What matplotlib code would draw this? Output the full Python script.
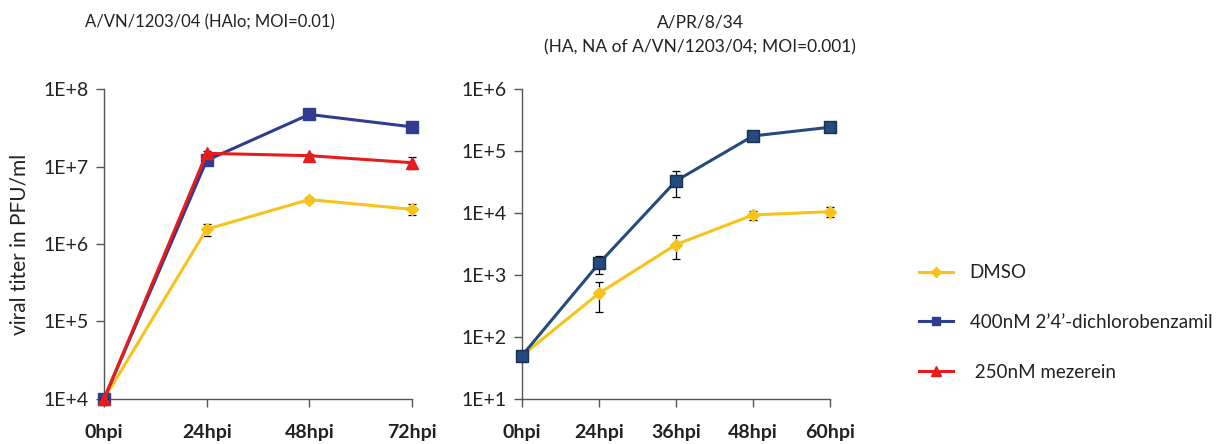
import numpy as np
import matplotlib.pyplot as plt
from matplotlib.ticker import FixedLocator, NullLocator
from matplotlib.lines import Line2D

plt.rcParams['font.family'] = ['Lato', 'DejaVu Sans']

# left panel: A/VN/1203/04
vn_labels = ["0hpi", "24hpi", "48hpi", "72hpi"]
vn_dmso = [1.0e4, 1.55e6, 3.75e6, 2.8e6]
vn_dmso_err = [0, 0.27e6, 0.3e6, 0.45e6]
vn_dcb = [1.0e4, 1.2e7, 4.7e7, 3.25e7]
vn_dcb_err = [0, 0, 0, 0]
vn_mez = [1.0e4, 1.48e7, 1.38e7, 1.12e7]
vn_mez_err = [0, 0.1e7, 0.08e7, 0.2e7]

# right panel: A/PR/8/34
pr_labels = ["0hpi", "24hpi", "36hpi", "48hpi", "60hpi"]
pr_dmso = [50, 507, 3.1e3, 9.3e3, 1.05e4]
pr_dmso_err = [0, 255, 1.3e3, 1.5e3, 1.9e3]
pr_dcb = [50, 1.54e3, 3.3e4, 1.75e5, 2.42e5]
pr_dcb_err = [0, 0.5e3, 1.5e4, 0.15e5, 0.2e5]

series_names = ["DMSO", "400nM 2\u20194\u2019-dichlorobenzamil", " 250nM mezerein"]

yellow = "#F7C31A"
blue_l = "#2F3C8F"
blue_r = "#254A7C"
red = "#E81C1C"
txt = "#222222"


def style_axes(ax, labels, ymin, ymax):
    ax.set_yscale("log")
    ax.set_ylim(ymin, ymax)
    ax.set_xlim(0, len(labels) - 1)
    ax.set_xticks(range(len(labels)))
    ax.set_xticklabels(labels, fontsize=14, fontweight="bold", color=txt)
    ticks = [10.0 ** k for k in range(int(np.log10(ymin)), int(np.log10(ymax)) + 1)]
    ax.yaxis.set_major_locator(FixedLocator(ticks))
    ax.yaxis.set_minor_locator(NullLocator())
    ax.set_yticklabels(["1E+%d" % int(round(np.log10(t))) for t in ticks],
                       fontsize=14, color=txt)
    for s in ["top", "right"]:
        ax.spines[s].set_visible(False)
    for s in ["left", "bottom"]:
        ax.spines[s].set_color("#555555")
        ax.spines[s].set_linewidth(1.0)
    ax.tick_params(axis="both", direction="out", length=6, color="#555555", width=1.0)
    ax.tick_params(axis="x", pad=12)
    ax.tick_params(axis="y", pad=5)


fig = plt.figure(figsize=(12.25, 4.44), dpi=100)
ax1 = fig.add_axes([0.0849, 0.1014, 0.2514, 0.6981])
ax2 = fig.add_axes([0.4261, 0.1014, 0.2515, 0.6981])

ekw = dict(ecolor="black", elinewidth=0.9, capsize=3, capthick=0.9, clip_on=False)

x1 = np.arange(len(vn_labels))
ax1.errorbar(x1, vn_dmso, yerr=vn_dmso_err, color=yellow, lw=2.2, marker="D",
             ms=6, mfc=yellow, mec=yellow, zorder=3, **ekw)
ax1.errorbar(x1, vn_dcb, yerr=vn_dcb_err, color=blue_l, lw=2.2, marker="s",
             ms=8, mfc=blue_l, mec=blue_l, zorder=4, **ekw)
ax1.errorbar(x1, vn_mez, yerr=vn_mez_err, color=red, lw=2.2, marker="^",
             ms=8, mfc=red, mec=red, zorder=5, **ekw)
style_axes(ax1, vn_labels, 1e4, 1e8)
ax1.set_ylabel("viral titer in PFU/ml", fontsize=15, color=txt, labelpad=10)

x2 = np.arange(len(pr_labels))
ax2.errorbar(x2, pr_dmso, yerr=pr_dmso_err, color=yellow, lw=2.2, marker="D",
             ms=6, mfc=yellow, mec=yellow, zorder=3, **ekw)
ax2.errorbar(x2, pr_dcb, yerr=pr_dcb_err, color=blue_r, lw=2.2, marker="s",
             ms=9, mfc=blue_r, mec="#1A2E55", zorder=4, **ekw)
style_axes(ax2, pr_labels, 1e1, 1e6)

fig.text(210 / 1225, 1 - 22 / 444, "A/VN/1203/04 (HAlo; MOI=0.01)", fontsize=12,
         color=txt, ha="center", va="center")
fig.text(700 / 1225, 1 - 22 / 444, "A/PR/8/34", fontsize=12.5, color=txt,
         ha="center", va="center")
fig.text(700 / 1225, 1 - 47 / 444, "(HA, NA of A/VN/1203/04; MOI=0.001)", fontsize=12.5,
         color=txt, ha="center", va="center")

handles = [
    Line2D([], [], color=yellow, lw=2.2, marker="D", ms=5, mfc=yellow, mec=yellow),
    Line2D([], [], color=blue_l, lw=2.2, marker="s", ms=6, mfc=blue_l, mec=blue_l),
    Line2D([], [], color=red, lw=2.2, marker="^", ms=7, mfc=red, mec=red),
]
leg = fig.legend(handles, series_names, loc="upper left", bbox_to_anchor=(0.744, 0.422),
                 frameon=False, fontsize=13.5, labelspacing=1.75, handlelength=1.8,
                 handletextpad=0.9, borderaxespad=0)
for t in leg.get_texts():
    t.set_color(txt)

fig.savefig("out.png", dpi=100)
